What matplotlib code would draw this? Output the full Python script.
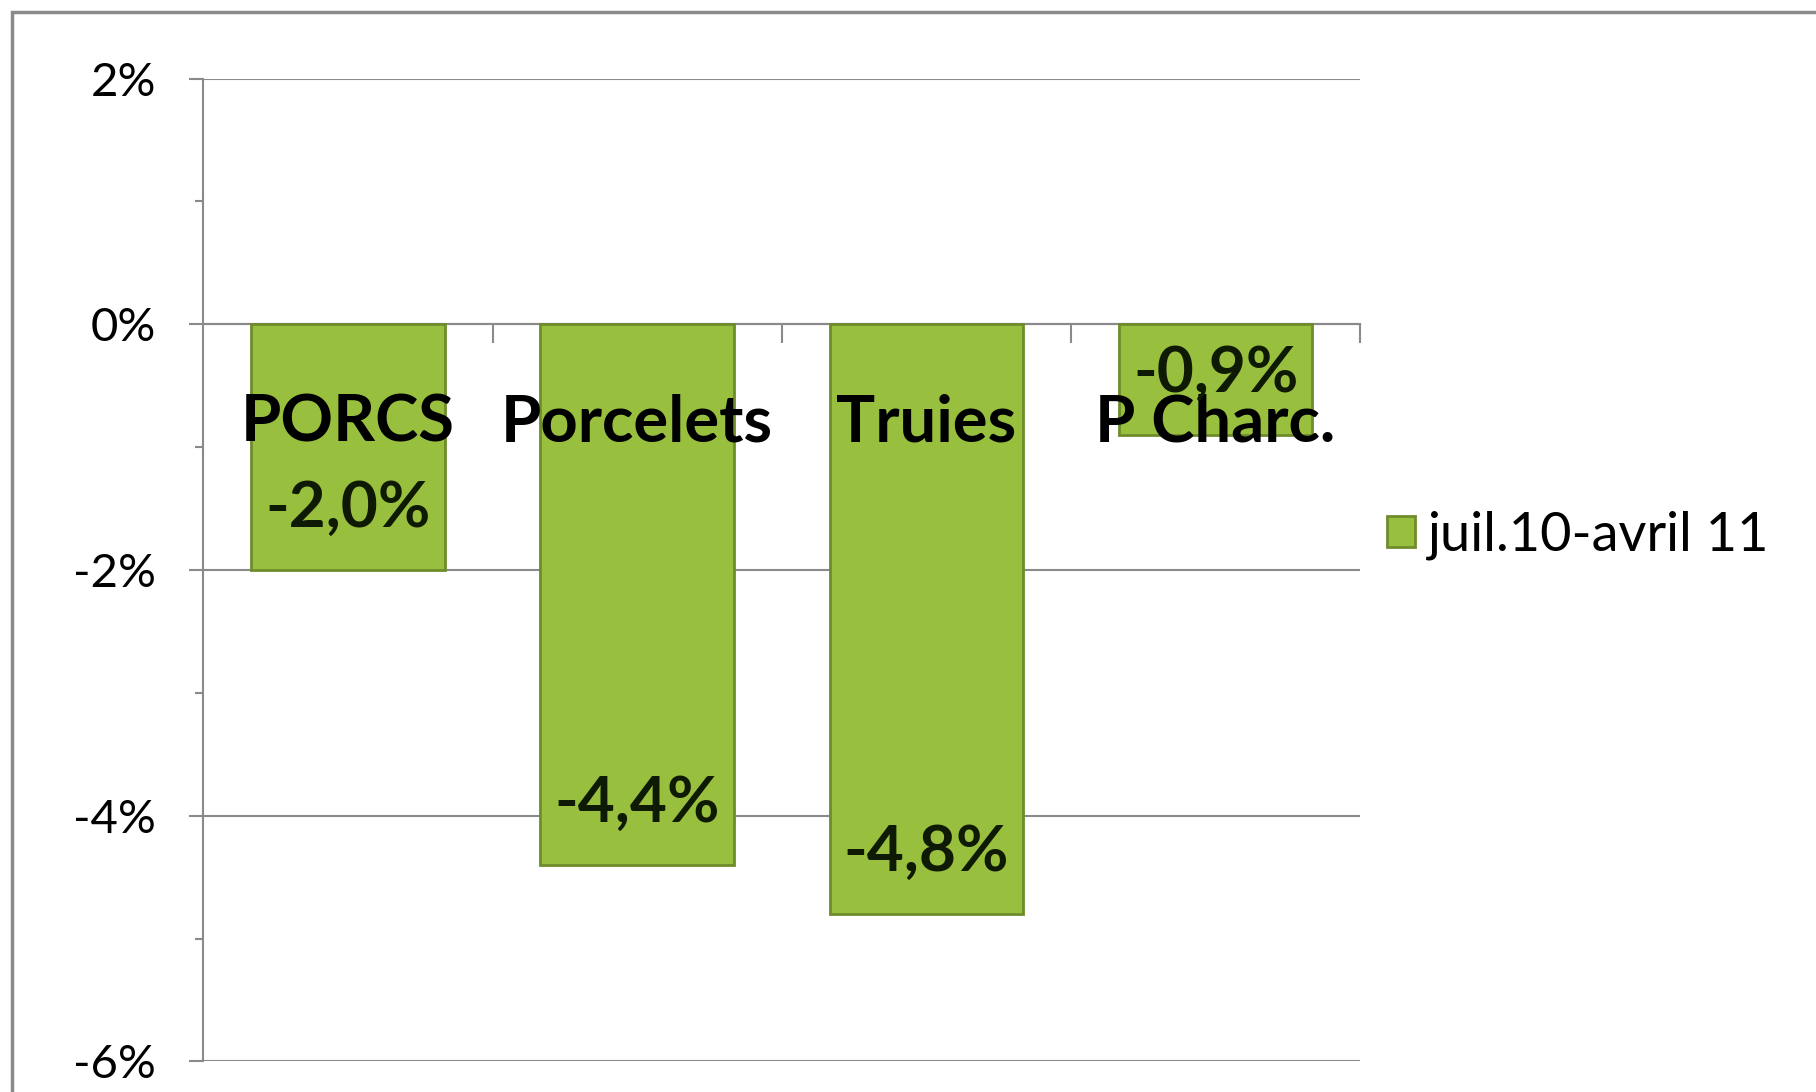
import matplotlib.pyplot as plt
from matplotlib.patches import Rectangle

categories = ['PORCS', 'Porcelets', 'Truies', 'P Charc.']
values = [-2.0, -4.4, -4.8, -0.9]
series_name = 'juil.10-avril 11'
yticks = [2, 0, -2, -4, -6]

plt.rcParams['font.family'] = ['Lato', 'DejaVu Sans']

fig = plt.figure(figsize=(18.16, 10.92), dpi=100)
ax = fig.add_axes([0.112, 0.028, 0.637, 0.900])

x = range(len(categories))
bars = ax.bar(x, values, width=0.67, color='#99bf3e', edgecolor='#6f8c2a',
              linewidth=2, label=series_name, zorder=3)

ax.set_xlim(-0.5, 3.5)
ax.set_ylim(-6, 2)

# gridlines
ax.set_yticks(yticks)
ax.set_yticklabels([f'{t}%' for t in yticks], fontsize=34)
ax.set_yticks([1, -1, -3, -5], minor=True)
ax.yaxis.grid(True, color='#8a8a8a', linewidth=1.5, zorder=0)
ax.tick_params(axis='y', which='major', length=10, width=1.5, color='#8a8a8a', pad=24)
ax.tick_params(axis='y', which='minor', length=6, width=1.5, color='#8a8a8a')

# x axis sits on 0
ax.spines['bottom'].set_position(('data', 0))
ax.spines['top'].set_visible(False)
ax.spines['right'].set_visible(False)
for s in ['left', 'bottom']:
    ax.spines[s].set_color('#8a8a8a')
    ax.spines[s].set_linewidth(1.5)
ax.set_xticks([0.5, 1.5, 2.5, 3.5])
ax.set_xticklabels([])
ax.tick_params(axis='x', length=14, width=1.5, color='#8a8a8a')

# noms et valeurs
for i, (cat, v) in enumerate(zip(categories, values)):
    ax.text(i, -0.8, cat, ha='center', va='center', fontsize=47,
            fontweight='bold', color='black', zorder=5)
    ax.text(i, v + 0.5, f'{v:.1f}%'.replace('.', ','), ha='center', va='center',
            fontsize=46, fontweight='bold', color='#0f1a05', zorder=5)

leg = fig.legend(handles=[bars], labels=[series_name], loc='center left',
                 bbox_to_anchor=(0.764, 0.51), frameon=False, fontsize=39,
                 handlelength=0.5, handleheight=0.5, handletextpad=0.25,
                 borderpad=0, borderaxespad=0)

# cadre du graphique
fig.patches.append(Rectangle((0.0066, -0.1), 1.2, 1.089, transform=fig.transFigure,
                             fill=False, edgecolor='#8a8a8a', linewidth=2.5))

plt.savefig('out.png', dpi=100)
